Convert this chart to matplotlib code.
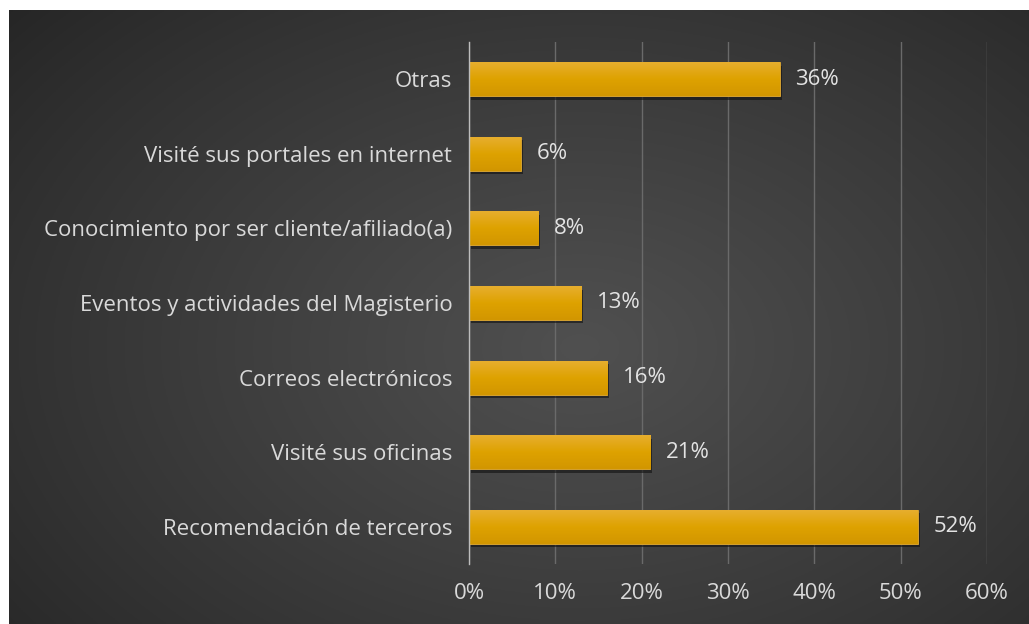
import numpy as np
import matplotlib
matplotlib.use("Agg")
import matplotlib.pyplot as plt
import matplotlib.patheffects as pe
from matplotlib.colors import LinearSegmentedColormap

categories = [
    "Recomendación de terceros",
    "Visité sus oficinas",
    "Correos electrónicos",
    "Eventos y actividades del Magisterio",
    "Conocimiento por ser cliente/afiliado(a)",
    "Visité sus portales en internet",
    "Otras",
]
values = [52, 21, 16, 13, 8, 6, 36]
xticks = [0, 10, 20, 30, 40, 50, 60]
xtick_labels = ["0%", "10%", "20%", "30%", "40%", "50%", "60%"]

W, H = 1029, 624
FONT = "Open Sans"
FS = 16
fig = plt.figure(figsize=(W / 100, H / 100), dpi=100)
fig.patch.set_facecolor("white")

# dark panel with a soft radial gradient
bg = fig.add_axes([9 / W, 0, 1 - 9 / W, 1 - 10 / H])
bg.set_axis_off()
yy, xx = np.mgrid[0:1:300j, 0:1:500j]
r = np.sqrt(((xx - 0.56) / 0.75) ** 2 + ((yy - 0.45) / 0.85) ** 2)
shade = np.clip(1 - r, 0, 1)
inner = np.array([0x50, 0x50, 0x50]) / 255
outer = np.array([0x25, 0x25, 0x25]) / 255
img = outer + (inner - outer) * shade[..., None] ** 0.9
bg.imshow(img, aspect="auto", extent=[0, 1, 0, 1], origin="lower")
bg.set_xlim(0, 1)
bg.set_ylim(0, 1)

ax = fig.add_axes([469 / W, 1 - 564 / H, (987 - 469) / W, (564 - 42) / H])
ax.set_facecolor("none")
ypos = np.arange(len(categories))
bar_h = 0.455
bars = ax.barh(ypos, values, height=bar_h, color="#dda004", edgecolor="#e2ab35",
               linewidth=0.6, zorder=3)
for b in bars:
    b.set_path_effects([pe.SimplePatchShadow(offset=(1.5, -2.5), shadow_rgbFace="#111111", alpha=0.6),
                        pe.Normal()])

# vertical gold gradient inside each bar
gold = LinearSegmentedColormap.from_list("gold", ["#d29600", "#dea200", "#e7ae2e"])
grad = np.linspace(0, 1, 64).reshape(-1, 1)
for b, y, v in zip(bars, ypos, values):
    im = ax.imshow(grad, cmap=gold, aspect="auto", origin="lower",
                   extent=[0, v, y - bar_h / 2, y + bar_h / 2], zorder=3.5)
    im.set_clip_path(b)

ax.set_xlim(0, 60)
ax.set_ylim(-0.5, len(categories) - 0.5)
ax.set_xticks(xticks)
ax.set_xticklabels(xtick_labels)
ax.set_yticks(ypos)
ax.set_yticklabels(categories)
ax.grid(axis="x", color="#6a6a6a", linewidth=1.0, zorder=0)
for s in ["top", "right", "bottom"]:
    ax.spines[s].set_visible(False)
ax.spines["left"].set_color("#bdbdbd")
ax.spines["left"].set_linewidth(1.0)
ax.spines["left"].set_zorder(4)
ax.tick_params(axis="both", length=0, colors="#d9d9d9", labelsize=FS)
ax.tick_params(axis="y", pad=12)
ax.tick_params(axis="x", pad=14)
for t in ax.get_xticklabels() + ax.get_yticklabels():
    t.set_fontfamily(FONT)

for y, v in zip(ypos, values):
    ax.text(v + 1.8, y, f"{v}%", va="center", ha="left", color="#e3e3e3",
            fontsize=FS, fontfamily=FONT, zorder=5)

fig.savefig("out.png", dpi=100, facecolor=fig.get_facecolor())
